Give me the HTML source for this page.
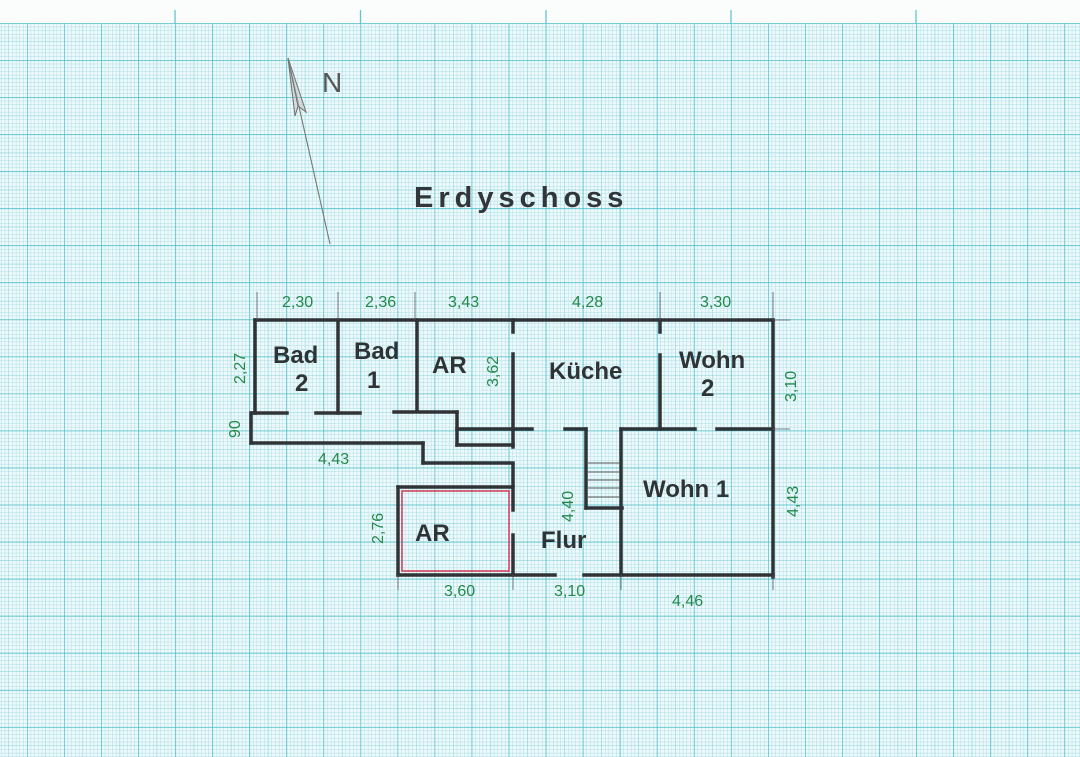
<!DOCTYPE html>
<html><head><meta charset="utf-8"><style>
html,body{margin:0;padding:0;background:#fbfdfd;}
svg{display:block}
.g{font-family:"Liberation Sans",sans-serif;fill:#23894a;font-size:16px;}
.r{font-family:"Liberation Sans",sans-serif;fill:#2e3336;font-size:24px;font-weight:bold;}
</style></head><body>
<svg width="1080" height="757" viewBox="0 0 1080 757" xmlns="http://www.w3.org/2000/svg">
<defs>
<pattern id="minor" x="27" y="23" width="3.705" height="3.705" patternUnits="userSpaceOnUse">
<path d="M0 0H3.705M0 0V3.705" stroke="#a6dde5" stroke-width="0.9" fill="none"/>
</pattern>
<pattern id="mid" x="27" y="23" width="18.525" height="18.525" patternUnits="userSpaceOnUse">
<path d="M0 0H18.525M0 0V18.525" stroke="#8dd4dc" stroke-width="1" fill="none"/>
</pattern>
<pattern id="major" x="27" y="23" width="37.05" height="37.05" patternUnits="userSpaceOnUse">
<path d="M0 0H37.05M0 0V37.05" stroke="#4fbfca" stroke-width="1.4" fill="none"/>
</pattern>
</defs>
<rect x="0" y="0" width="1080" height="757" fill="#fbfdfd"/>
<rect x="0" y="23" width="1080" height="734" fill="#eef9fb"/>
<rect x="0" y="23" width="1080" height="734" fill="url(#minor)"/>
<rect x="0" y="23" width="1080" height="734" fill="url(#mid)"/>
<rect x="0" y="23" width="1080" height="734" fill="url(#major)"/>
<g stroke="#63c6cf" stroke-width="1.3">
<line x1="175" y1="10" x2="175" y2="23"/><line x1="360.5" y1="10" x2="360.5" y2="23"/>
<line x1="546" y1="10" x2="546" y2="23"/><line x1="731" y1="10" x2="731" y2="23"/>
<line x1="916" y1="10" x2="916" y2="23"/>
</g>

<g stroke="#777" stroke-width="1.1" fill="none">
<line x1="330" y1="244" x2="288" y2="58"/>
<path d="M288 58 L306 112 L298 106 L295 116 Z" fill="#bbb" fill-opacity="0.4"/>
<line x1="288" y1="58" x2="298" y2="106"/>
</g>
<text x="322" y="92" font-family="Liberation Sans,sans-serif" font-size="28" fill="#555">N</text>

<text x="414" y="207" font-family="Liberation Sans,sans-serif" font-size="29" font-weight="bold" fill="#30363a" letter-spacing="5">Erdyschoss</text>

<g stroke="#2f3336" stroke-width="3.5" fill="none" stroke-linecap="square">
<line x1="255" y1="320" x2="773" y2="320"/>
<line x1="255" y1="320" x2="255" y2="413"/>
<line x1="338" y1="320" x2="338" y2="413"/>
<line x1="417" y1="320" x2="417" y2="410"/>
<line x1="252" y1="413" x2="287" y2="413"/>
<line x1="316" y1="413" x2="360" y2="413"/>
<line x1="394" y1="412" x2="457" y2="412"/>
<line x1="251" y1="413" x2="251" y2="443"/>
<line x1="251" y1="443" x2="423" y2="443"/>
<line x1="423" y1="443" x2="423" y2="463"/>
<line x1="423" y1="463" x2="513" y2="463"/>
<line x1="457" y1="412" x2="457" y2="445"/>
<line x1="457" y1="429" x2="532" y2="429"/>
<line x1="457" y1="445" x2="513" y2="445"/>
<line x1="513" y1="320" x2="513" y2="332"/>
<line x1="513" y1="354" x2="513" y2="447"/>
<line x1="513" y1="465" x2="513" y2="510"/>
<line x1="513" y1="535" x2="513" y2="575"/>
<line x1="565" y1="429" x2="586" y2="429"/>
<line x1="586" y1="429" x2="586" y2="508"/>
<line x1="586" y1="508" x2="622" y2="508"/>
<line x1="621" y1="429" x2="621" y2="575"/>
<line x1="621" y1="429" x2="695" y2="429"/>
<line x1="717" y1="429" x2="773" y2="429"/>
<line x1="660" y1="320" x2="660" y2="332"/>
<line x1="660" y1="355" x2="660" y2="429"/>
<line x1="773" y1="320" x2="773" y2="577"/>
<line x1="398" y1="575" x2="555" y2="575"/>
<line x1="584" y1="575" x2="773" y2="575"/>
<line x1="398" y1="487" x2="513" y2="487"/>
<line x1="398" y1="487" x2="398" y2="575"/>
</g>
<rect x="402" y="491" width="107" height="80" fill="none" stroke="#d23a55" stroke-width="1.5"/>
<g stroke="#555" stroke-width="1">
<line x1="588" y1="463" x2="620" y2="463"/><line x1="588" y1="472" x2="620" y2="472"/>
<line x1="588" y1="480" x2="620" y2="480"/><line x1="588" y1="488" x2="620" y2="488"/>
<line x1="588" y1="497" x2="620" y2="497"/>
</g>
<g stroke="#556" stroke-width="0.8">
<line x1="257" y1="292" x2="257" y2="320"/><line x1="338" y1="292" x2="338" y2="320"/>
<line x1="415" y1="292" x2="415" y2="320"/><line x1="660" y1="292" x2="660" y2="320"/>
<line x1="773" y1="292" x2="773" y2="320"/>
<line x1="773" y1="320" x2="790" y2="320"/><line x1="773" y1="429" x2="790" y2="429"/>
<line x1="398" y1="575" x2="398" y2="590"/><line x1="513" y1="575" x2="513" y2="590"/>
<line x1="621" y1="575" x2="621" y2="590"/><line x1="773" y1="575" x2="773" y2="590"/>
</g>
<text class="g" x="282" y="307">2,30</text>
<text class="g" x="365" y="307">2,36</text>
<text class="g" x="448" y="307">3,43</text>
<text class="g" x="572" y="307">4,28</text>
<text class="g" x="700" y="307">3,30</text>
<text class="g" transform="translate(245,384) rotate(-90)">2,27</text>
<text class="g" transform="translate(240,438) rotate(-90)">90</text>
<text class="g" x="318" y="464">4,43</text>
<text class="g" transform="translate(498,387) rotate(-90)">3,62</text>
<text class="g" transform="translate(796,402) rotate(-90)">3,10</text>
<text class="g" transform="translate(798,517) rotate(-90)">4,43</text>
<text class="g" transform="translate(573,522) rotate(-90)">4,40</text>
<text class="g" transform="translate(383,544) rotate(-90)">2,76</text>
<text class="g" x="444" y="596">3,60</text>
<text class="g" x="554" y="596">3,10</text>
<text class="g" x="672" y="606">4,46</text>
<text class="r" x="273" y="363">Bad</text>
<text class="r" x="295" y="391">2</text>
<text class="r" x="354" y="359">Bad</text>
<text class="r" x="367" y="388">1</text>
<text class="r" x="432" y="373">AR</text>
<text class="r" x="549" y="379">Küche</text>
<text class="r" x="679" y="368">Wohn</text>
<text class="r" x="701" y="396">2</text>
<text class="r" x="643" y="497">Wohn 1</text>
<text class="r" x="415" y="541">AR</text>
<text class="r" x="541" y="548">Flur</text>
</svg>
</body></html>
